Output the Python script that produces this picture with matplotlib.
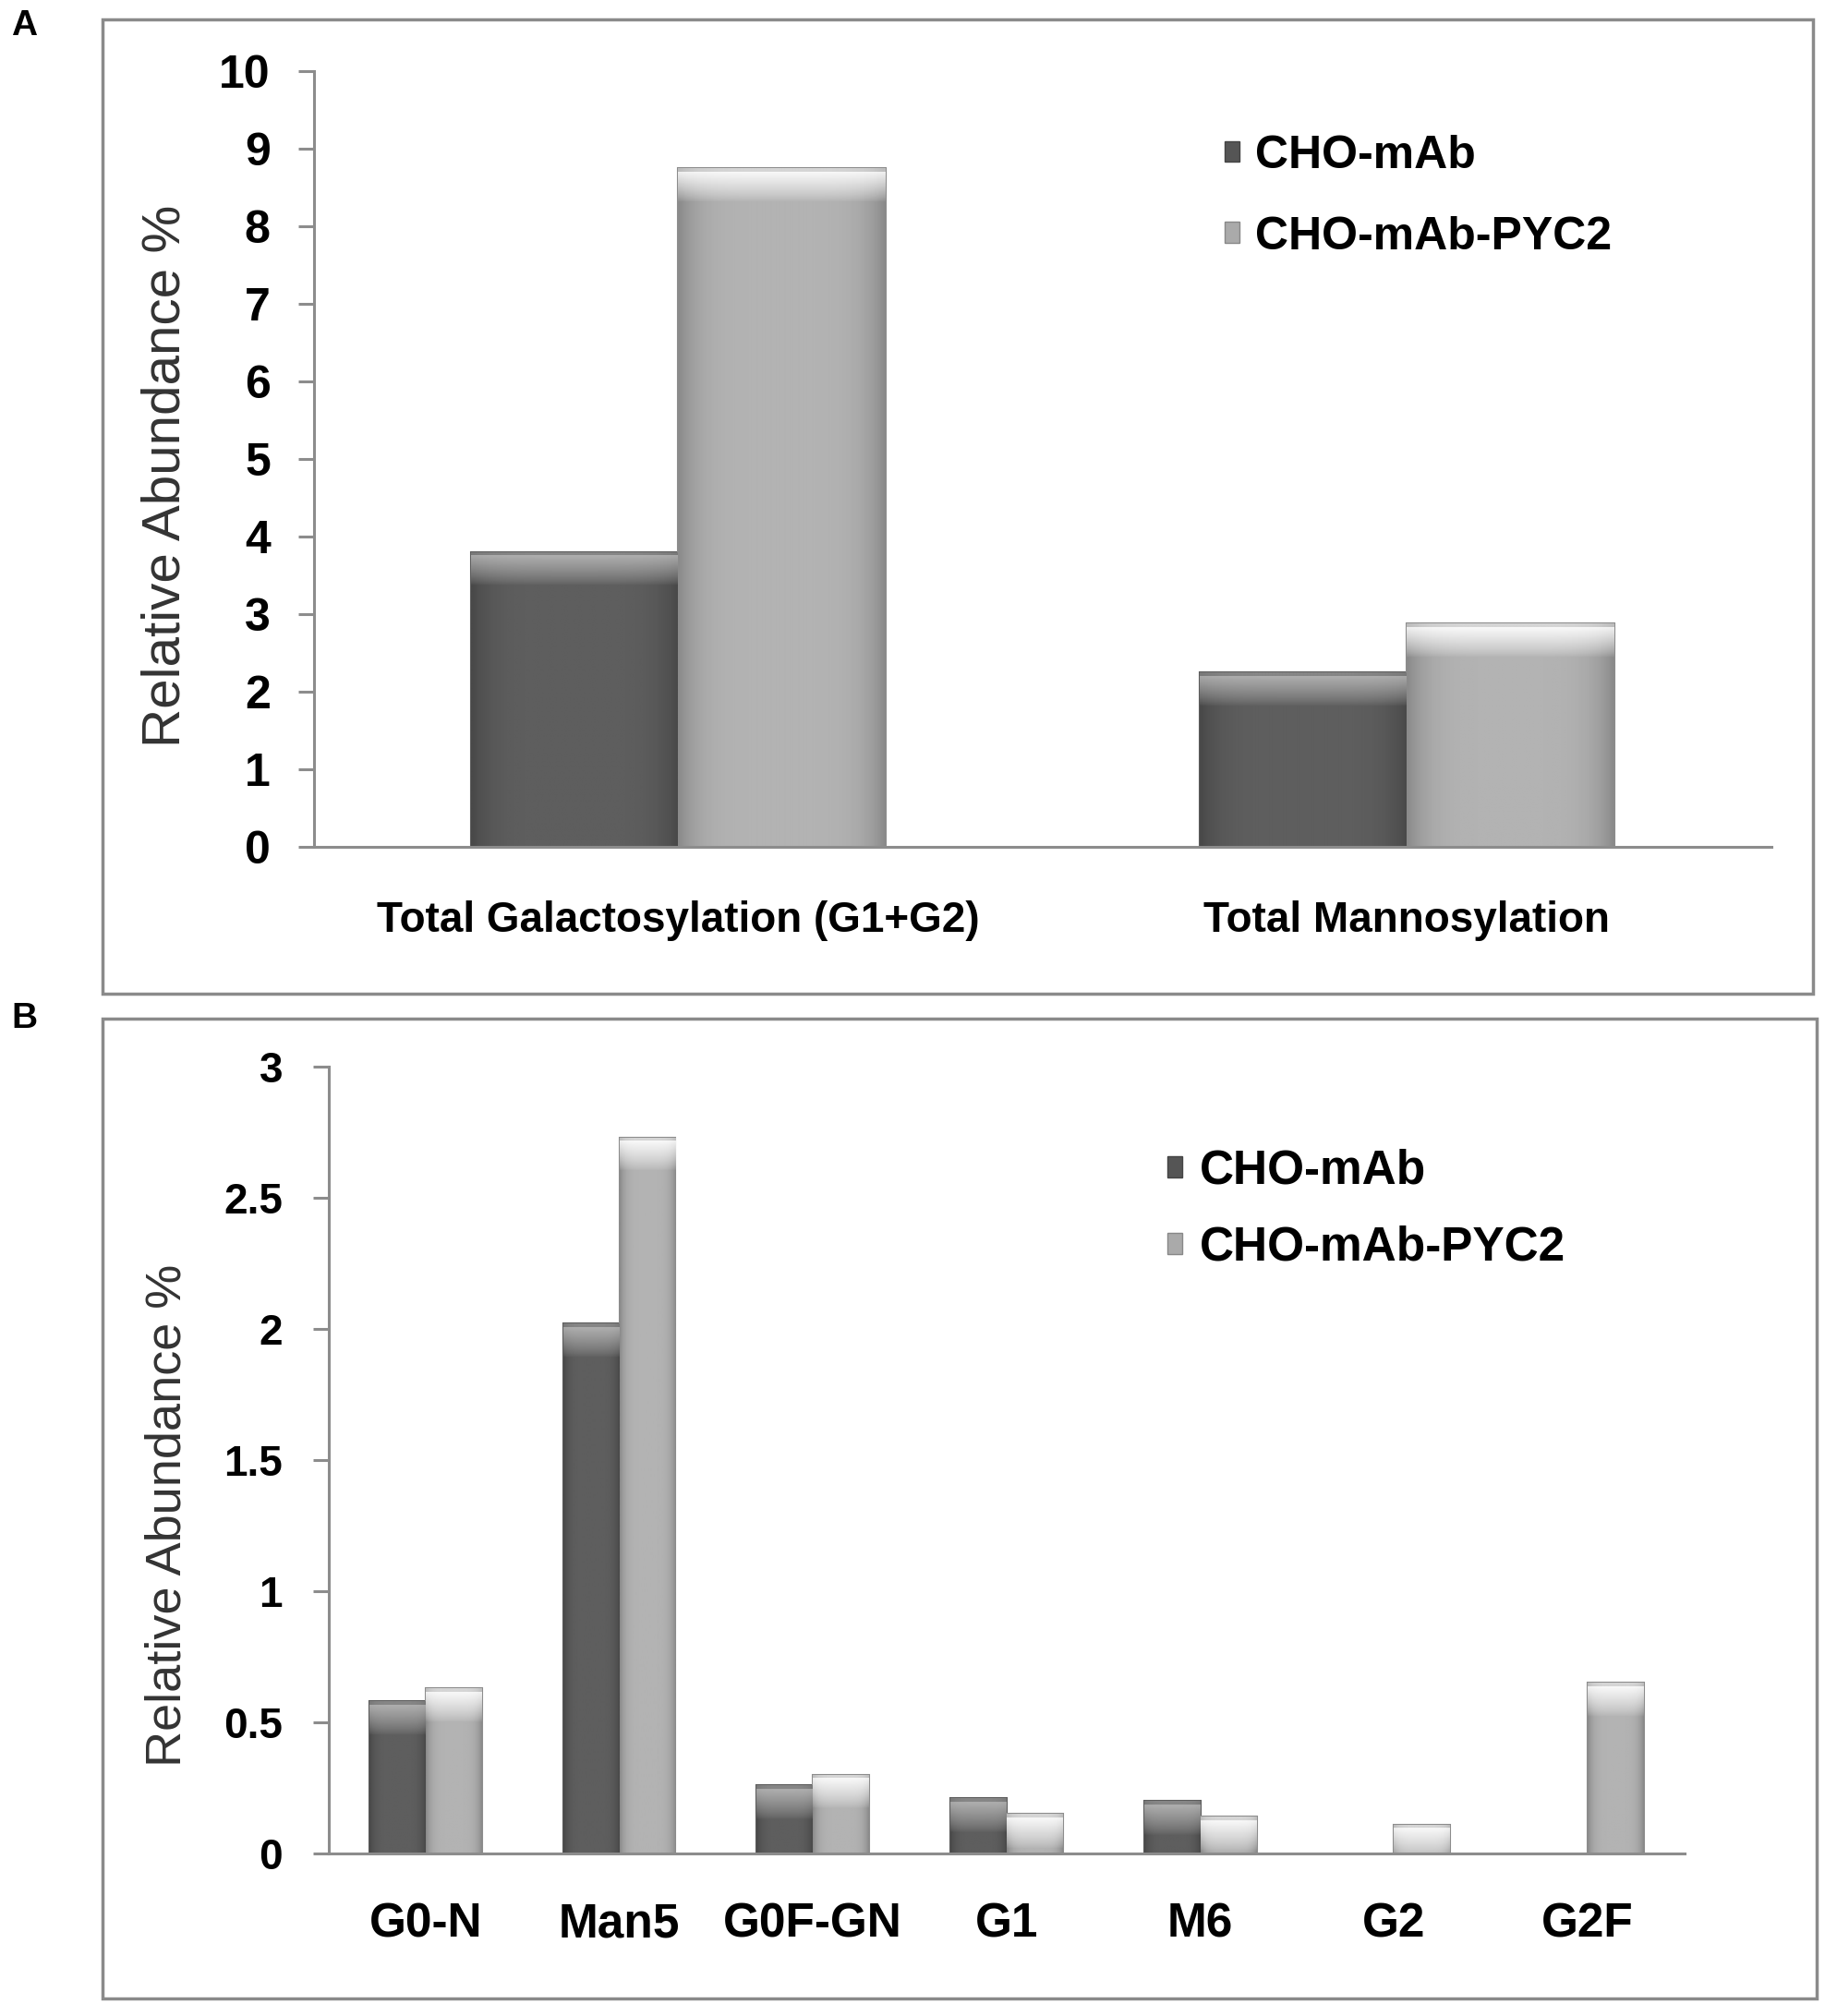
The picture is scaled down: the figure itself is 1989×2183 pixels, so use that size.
import numpy as np
import matplotlib
matplotlib.use("Agg")
import matplotlib.pyplot as plt
from matplotlib.patches import Rectangle, Patch

plt.rcParams['font.family'] = ['Liberation Sans', 'DejaVu Sans']

# data
series = ["CHO-mAb", "CHO-mAb-PYC2"]

cats_a = ["Total Galactosylation (G1+G2)", "Total Mannosylation"]
cho_a = [3.8, 2.25]
pyc_a = [8.75, 2.88]
yticks_a = [0, 1, 2, 3, 4, 5, 6, 7, 8, 9, 10]

cats_b = ["G0-N", "Man5", "G0F-GN", "G1", "M6", "G2", "G2F"]
cho_b = [0.58, 2.02, 0.26, 0.21, 0.20, 0.0, 0.0]
pyc_b = [0.63, 2.73, 0.30, 0.15, 0.14, 0.11, 0.65]
yticks_b = [0, 0.5, 1, 1.5, 2, 2.5, 3]
yticklabels_b = ["0", "0.5", "1", "1.5", "2", "2.5", "3"]

W, H = 1990, 2183
fig = plt.figure(figsize=(W / 100, H / 100), dpi=100)

AX = "#8c8c8c"
dark = (0.37, 0.36, 0.68)   # body gray, edge gray, bevel gray
light = (0.70, 0.55, 0.97)


def shade_bars(ax, bars, tone):
    body, edge, hi = tone
    fig.canvas.draw()
    for b in bars:
        x, y, w, h = b.get_x(), b.get_y(), b.get_width(), b.get_height()
        if h <= 0:
            b.set_visible(False)
            continue
        p0 = ax.transData.transform((x, y))
        p1 = ax.transData.transform((x + w, y + h))
        hpx = abs(p1[1] - p0[1])
        xs = np.linspace(0, 1, 60)
        prof = 1 - 0.22 * np.abs(2 * xs - 1) ** 5
        rows = max(int(hpx), 2)
        ys = np.arange(rows)  # pixel rows from top
        band = 32.0
        t = np.clip(1 - (ys - 4) / band, 0, 1) ** 0.8
        t[ys < 4] = 0.5
        img = body * prof[None, :] * (1 - t[:, None]) + hi * t[:, None] * (0.85 + 0.15 * prof[None, :])
        im = ax.imshow(img, cmap="gray", vmin=0, vmax=1, extent=(x, x + w, y, y + h),
                       aspect="auto", zorder=2, interpolation="bilinear")
        im.set_clip_path(b)
        b.set_facecolor((body, body, body))
        b.set_edgecolor((edge, edge, edge))


def style(ax, ylim, yt, ytl, tick_fs, pad):
    ax.set_ylim(*ylim)
    ax.set_yticks(yt)
    ax.set_yticklabels(ytl, fontsize=tick_fs, fontweight="bold")
    for s in ["top", "right"]:
        ax.spines[s].set_visible(False)
    for s in ["left", "bottom"]:
        ax.spines[s].set_color(AX)
        ax.spines[s].set_linewidth(2.2)
    ax.tick_params(axis="y", length=12, width=2.2, color=AX, pad=pad)
    ax.tick_params(axis="x", length=0)


def panel_box(x0, y0, x1, y1):
    r = Rectangle((x0 / W, 1 - y1 / H), (x1 - x0) / W, (y1 - y0) / H,
                  transform=fig.transFigure, fill=False, edgecolor="#8a8a8a", linewidth=2.5)
    fig.add_artist(r)


# panel A
axa = fig.add_axes([340 / W, 1 - 917 / H, 1578 / W, (917 - 77) / H])
xa = np.arange(len(cats_a))
bw = 0.285
ba1 = axa.bar(xa - bw / 2, cho_a, bw, zorder=2, linewidth=1.5)
ba2 = axa.bar(xa + bw / 2, pyc_a, bw, zorder=2, linewidth=1.5)
axa.set_xlim(-0.5, len(cats_a) - 0.5)
style(axa, (0, 10), yticks_a, [str(v) for v in yticks_a], 36, 22)
axa.set_xticks(xa)
axa.set_xticklabels(cats_a, fontsize=33, fontweight="bold")
axa.tick_params(axis="x", pad=42)
axa.set_ylabel("Relative Abundance %", fontsize=42, color="#333333", labelpad=22)
axa.yaxis.label.set_y(0.478)
shade_bars(axa, ba1, dark)
shade_bars(axa, ba2, light)
axa.set_xlim(-0.5, len(cats_a) - 0.5)
axa.set_ylim(0, 10)

# panel B
axb = fig.add_axes([356 / W, 1 - 2007 / H, 1468 / W, (2007 - 1155) / H])
xb = np.arange(len(cats_b))
bwb = 0.29
bb1 = axb.bar(xb - bwb / 2, cho_b, bwb, zorder=2, linewidth=1.5)
bb2 = axb.bar(xb + bwb / 2, pyc_b, bwb, zorder=2, linewidth=1.5)
axb.set_xlim(-0.5, len(cats_b) - 0.5)
style(axb, (0, 3), yticks_b, yticklabels_b, 33, 24)
axb.set_xticks(xb)
axb.set_xticklabels(cats_b, fontsize=37, fontweight="bold")
axb.tick_params(axis="x", pad=38)
axb.set_ylabel("Relative Abundance %", fontsize=39, color="#333333", labelpad=26)
axb.yaxis.label.set_y(0.43)
shade_bars(axb, bb1, dark)
shade_bars(axb, bb2, light)
axb.set_xlim(-0.5, len(cats_b) - 0.5)
axb.set_ylim(0, 3)

# legends
handles = [Patch(facecolor="#555555", edgecolor="#444444"),
           Patch(facecolor="#aaaaaa", edgecolor="#888888")]
for anchor, fs, sp in [((1326 / W, 1 - 146 / H), 36, 0.83), ((1264 / W, 1 - 1244 / H), 37, 0.66)]:
    fig.legend(handles, series, loc="upper left", bbox_to_anchor=anchor, frameon=False,
               prop={"size": fs, "weight": "bold"}, handlelength=0.32, handleheight=0.32,
               handletextpad=0.35, labelspacing=sp, borderaxespad=0, borderpad=0)

panel_box(111, 21, 1963, 1076)
panel_box(111, 1103, 1967, 2164)
fig.text(12 / W, 1 - 28 / H, "A", fontsize=28, fontweight="bold", va="center")
fig.text(12 / W, 1 - 1103 / H, "B", fontsize=28, fontweight="bold", va="center")

fig.savefig("out.png", dpi=100)
